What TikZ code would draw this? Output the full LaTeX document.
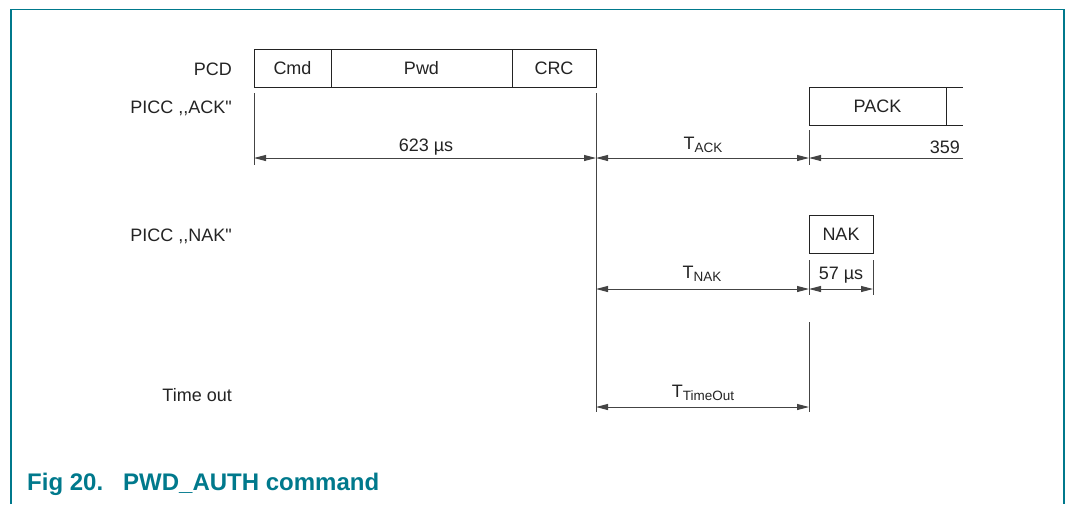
\documentclass[tikz,border=0pt]{standalone}
\usepackage{fontspec}
\setmainfont{Liberation Sans}[Ligatures=TeXOff]
\usetikzlibrary{arrows.meta}
\definecolor{nxpteal}{RGB}{0,121,140}
\definecolor{ink}{RGB}{35,35,35}
\newcommand\subtxt[1]{\raisebox{-3pt}{\fontsize{13.5}{15}\selectfont #1}}
\tikzset{
  lbl/.style={font=\fontsize{18}{21}\selectfont, text=ink, inner sep=0pt},
  rowlbl/.style={lbl, anchor=east},
  field/.style={draw=ink, line width=0.9pt, lbl, minimum height=38pt, outer sep=0pt, anchor=north west},
  tick/.style={draw=ink!85, line width=1pt},
  dim/.style={draw=ink!85, line width=1pt, {Triangle[length=12pt,width=6pt]}-{Triangle[length=12pt,width=6pt]}},
  dimleft/.style={draw=ink!85, line width=1pt, {Triangle[length=12pt,width=6pt]}-}
}
\begin{document}
\begin{tikzpicture}[x=1pt,y=-1pt]
\useasboundingbox (0,0) rectangle (1066,504);
% frame
\draw[nxpteal, line width=1.6pt] (11,504) -- (11,9.5) -- (1064,9.5) -- (1064,504);
% row labels
\node[rowlbl] (lpcd) at (232,69) {PCD};
\node[rowlbl] (lack) at (232,108) {PICC ,,ACK"};
\node[rowlbl] (lnak) at (232,236) {PICC ,,NAK"};
\node[rowlbl] (lto) at (232,395) {Time out};
% PCD frame
\node[field, minimum width=77pt] (cmd) at (254,49) {Cmd};
\node[field, minimum width=181pt] (pwd) at (cmd.north east) {Pwd};
\node[field, minimum width=84pt] (crc) at (pwd.north east) {CRC};
% PACK
\node[field, minimum width=137pt] (pack) at (809,87) {PACK};
\coordinate (packend) at (963,87);
\draw[ink, line width=0.9pt] (pack.north east) -- (packend) (pack.south east) -- (packend |- pack.south);
% NAK
\node[field, minimum width=64pt] (nak) at (809,215) {NAK};
% vertical reference lines
\coordinate (a0) at (254,93);   \coordinate (a1) at (254,165);
\coordinate (b0) at (596,93);   \coordinate (b1) at (596,412);
\coordinate (c0) at (809,130);  \coordinate (c1) at (809,165);
\coordinate (d0) at (809,260);  \coordinate (d1) at (809,295);
\coordinate (e0) at (809,322);  \coordinate (e1) at (809,412);
\coordinate (f0) at (873,260);  \coordinate (f1) at (873,295);
\draw[tick] (a0) -- (a1);
\draw[tick] (b0) -- (b1);
\draw[tick] (c0) -- (c1);
\draw[tick] (d0) -- (d1);
\draw[tick] (e0) -- (e1);
\draw[tick] (f0) -- (f1);
% dimension arrows
\coordinate (ackA) at (254,158); \coordinate (ackB) at (596,158);
\coordinate (ackC) at (809,158); \coordinate (ackD) at (963,158);
\draw[dim] (ackA) -- (ackB);
\draw[dim] (ackB) -- (ackC);
\draw[dimleft] (ackC) -- (ackD);
\node[lbl] (t623) at (426,147) {623 µs};
\node[lbl] (tack) at (703,145) {T\subtxt{ACK}};
\node[lbl, anchor=east] (t359) at (960,147) {359};
\coordinate (nakA) at (596,289); \coordinate (nakB) at (809,289); \coordinate (nakC) at (873,289);
\draw[dim] (nakA) -- (nakB);
\draw[dim] (nakB) -- (nakC);
\node[lbl] (tnak) at (702,274) {T\subtxt{NAK}};
\node[lbl] (t57) at (841,275) {57 µs};
\coordinate (toA) at (596,407); \coordinate (toB) at (809,407);
\draw[dim] (toA) -- (toB);
\node[lbl] (tto) at (703,393) {T\subtxt{TimeOut}};
% caption
\node[anchor=west, text=nxpteal, font=\fontsize{24}{28}\selectfont\bfseries, inner sep=0pt] (cap) at (27,484) {Fig 20.\hspace{20pt}PWD\_AUTH command};
\end{tikzpicture}
\end{document}
